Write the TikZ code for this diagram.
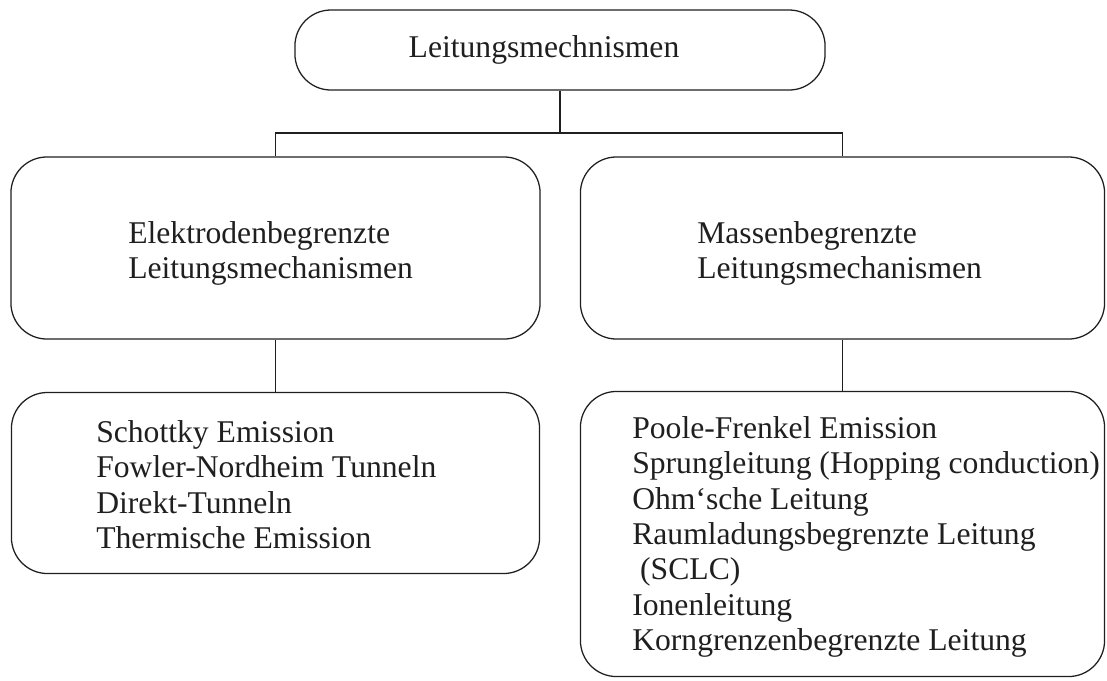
\documentclass[tikz,border=0pt]{standalone}
\usepackage{fontspec}
\setmainfont{Liberation Serif}
\usetikzlibrary{positioning}

\tikzset{
  mechbox/.style={draw=black!88, line width=0.9pt, rounded corners=0.9cm},
  mechtext/.style={font=\fontsize{22.5}{25.2}\selectfont, text=black!88, align=left, inner sep=0pt},
  mechline/.style={draw=black!88, line width=0.9pt}
}

\begin{document}
\begin{tikzpicture}[x=0.025cm, y=-0.025cm]
  \useasboundingbox (0,0) rectangle (1107,680);

  % Oberbegriff
  \node[mechbox, minimum width=13.25cm, minimum height=2cm] (root) at (560,50) {};
  \node[mechtext] (roottxt) at (544,50) {Leitungsmechnismen};

  % Zwei Gruppen
  \node[mechbox, minimum width=13.225cm, minimum height=4.55cm] (lmid) at (275.5,248) {};
  \node[mechtext, anchor=north west] (lmidtxt) at (128,221) {Elektrodenbegrenzte\\Leitungsmechanismen};

  \node[mechbox, minimum width=13.1cm, minimum height=4.55cm] (rmid) at (842.5,248) {};
  \node[mechtext, anchor=north west] (rmidtxt) at (697,221) {Massenbegrenzte\\Leitungsmechanismen};

  % Einzelne Mechanismen
  \node[mechbox, minimum width=13.2cm, minimum height=4.525cm] (lbot) at (275.5,483) {};
  \node[mechtext, anchor=north west] (lbottxt) at (96,420) {Schottky Emission\\Fowler-Nordheim Tunneln\\Direkt-Tunneln\\Thermische Emission};

  \node[mechbox, minimum width=13.1cm, minimum height=7.125cm] (rbot) at (842.5,534) {};
  \node[mechtext, anchor=north west] (rbottxt) at (632,416) {Poole-Frenkel Emission\\Sprungleitung (Hopping conduction)\\Ohm`sche Leitung\\Raumladungsbegrenzte Leitung\\\ (SCLC)\\Ionenleitung\\Korngrenzenbegrenzte Leitung};

  % Verbindungen
  \coordinate (split) at (560,133);
  \draw[mechline] (root.south) -- (split);
  \draw[mechline] (lmid.north) |- (split) -| (rmid.north);
  \draw[mechline] (lmid.south) -- (lmid.south |- lbot.north);
  \draw[mechline] (rmid.south) -- (rmid.south |- rbot.north);
\end{tikzpicture}
\end{document}
